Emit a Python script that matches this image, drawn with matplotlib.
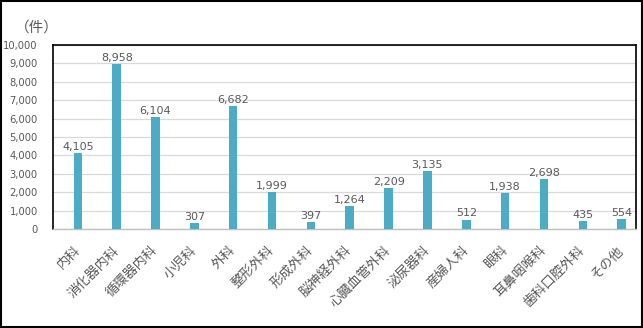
import matplotlib.pyplot as plt
import matplotlib.patches as patches
import numpy as np

plt.rcParams['font.family'] = ['Noto Sans CJK JP', 'DejaVu Sans']

categories = ['内科', '消化器内科', '循環器内科', '小児科', '外科', '整形外科', '形成外科',
              '脳神経外科', '心臓血管外科', '泌尿器科', '産婦人科', '眼科', '耳鼻咽喉科',
              '歯科口腔外科', 'その他']
values = [4105, 8958, 6104, 307, 6682, 1999, 397, 1264, 2209, 3135, 512, 1938, 2698, 435, 554]

txt = '#595959'
bar_color = '#4BACC6'
num_font = ['DejaVu Sans']

fig = plt.figure(figsize=(6.43, 3.28), dpi=100)
ax = fig.add_axes([53 / 643, 1 - 229 / 328, (636 - 53) / 643, (229 - 45) / 328])

x = np.arange(len(categories))
ax.bar(x, values, width=0.22, color=bar_color, zorder=3)
for xi, v in zip(x, values):
    ax.text(xi, v + 60, f'{v:,}', ha='center', va='bottom', fontsize=8, color=txt,
            family=num_font)

ax.set_xlim(-0.64, 14.37)
ax.set_ylim(0, 10000)
ax.set_yticks(np.arange(0, 10001, 1000))
ax.set_yticklabels([f'{t:,}' for t in range(0, 10001, 1000)], family=num_font)
ax.yaxis.grid(True, color='#d9d9d9', linewidth=0.9, zorder=0)
ax.set_xticks(x)
ax.set_xticklabels(categories, rotation=45, ha='right', va='center', rotation_mode='anchor')
ax.tick_params(axis='x', length=0, pad=14, labelsize=9.5, labelcolor=txt)
ax.tick_params(axis='y', length=0, pad=11, labelsize=7.2, labelcolor=txt)

for s in ['left', 'top', 'right']:
    ax.spines[s].set_color('black')
    ax.spines[s].set_linewidth(1.2)
ax.spines['bottom'].set_color('#bfbfbf')
ax.spines['bottom'].set_linewidth(1.0)

fig.text(15 / 643, 1 - 28 / 328, '（件）', fontsize=10.5, color=txt, va='center', ha='left')

fig.patches.append(patches.Rectangle((0.001, 0.002), 0.997, 0.995, transform=fig.transFigure,
                                     fill=False, edgecolor='black', linewidth=1.5))

fig.savefig('out.png', dpi=100)
